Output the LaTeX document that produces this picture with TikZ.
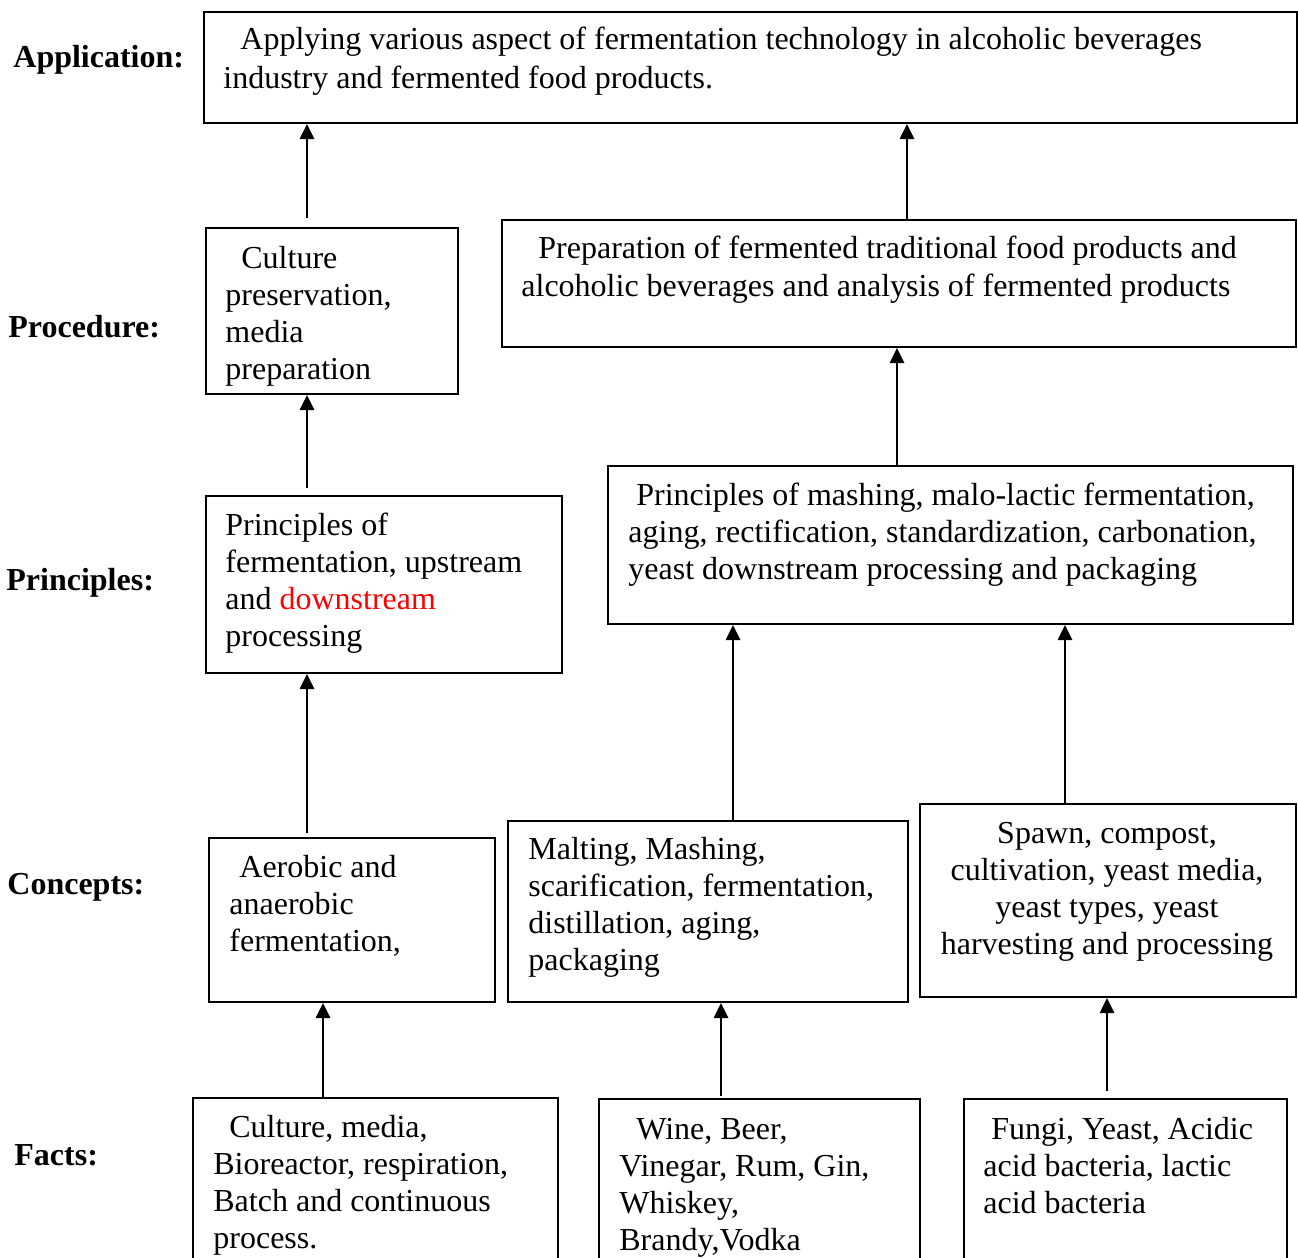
\documentclass[tikz,border=0pt]{standalone}
\usepackage{fontspec}
\setmainfont{Liberation Serif}
\usetikzlibrary{arrows.meta}
\begin{document}
\begin{tikzpicture}[x=0.5pt,y=-0.5pt,
  box/.style={draw, line width=1pt, inner sep=0pt, anchor=north west},
  txt/.style={inner sep=0pt, anchor=base west, font=\fontsize{16}{18.5}\selectfont},
  ctxt/.style={inner sep=0pt, anchor=base, font=\fontsize{16}{18.5}\selectfont},
  lvl/.style={inner sep=0pt, anchor=base west, font=\fontsize{16}{18.5}\selectfont\bfseries},
  arr/.style={line width=1.3pt, -{Triangle[length=7.5pt,width=7pt]}}]
\useasboundingbox (0,0) rectangle (1298,1258);
\clip (0,0) rectangle (1298,1258);
\fill[white] (0,0) rectangle (1298,1258);

% level labels
\node[lvl] (lapp)  at (13,68)   {Application:};
\node[lvl] (lproc) at (8,337)   {Procedure:};
\node[lvl] (lprin) at (6,590)   {Principles:};
\node[lvl] (lcon)  at (7,894)   {Concepts:};
\node[lvl] (lfact) at (14,1165) {Facts:};

% boxes
\node[box, minimum width=546.5pt, minimum height=55.5pt] (app)   at (203,11)  {};
\node[box, minimum width=126pt,   minimum height=83pt]   (proc1) at (205,227) {};
\node[box, minimum width=397pt,   minimum height=63.5pt] (proc2) at (501,219) {};
\node[box, minimum width=178pt,   minimum height=88.5pt] (prin1) at (205,495) {};
\node[box, minimum width=342.5pt, minimum height=79pt]   (prin2) at (607,465) {};
\node[box, minimum width=143pt,   minimum height=82pt]   (con1)  at (208,837) {};
\node[box, minimum width=200pt,   minimum height=90.5pt] (con2)  at (507,820) {};
\node[box, minimum width=188pt,   minimum height=96.5pt] (con3)  at (919,803) {};
\node[box, minimum width=182.5pt, minimum height=120pt]  (fact1) at (192,1097) {};
\node[box, minimum width=160.5pt, minimum height=120pt]  (fact2) at (598,1098) {};
\node[box, minimum width=161.5pt, minimum height=120pt]  (fact3) at (963,1098) {};

% box texts
\node[txt] (app-t) at (223,49) {\begin{tabular}[t]{@{}l@{}}\hspace*{8.5pt}Applying various aspect of fermentation technology in alcoholic beverages\\[1pt]industry and fermented food products.\end{tabular}};
\node[txt] (proc1-t) at (225,268) {\begin{tabular}[t]{@{}l@{}}\hspace*{8pt}Culture\\preservation,\\media\\preparation\end{tabular}};
\node[txt] (proc2-t) at (521,258) {\begin{tabular}[t]{@{}l@{}}\hspace*{8.5pt}Preparation of fermented traditional food products and\\[0.5pt]alcoholic beverages and analysis of fermented products\end{tabular}};
\node[txt] (prin1-t) at (225,535) {\begin{tabular}[t]{@{}l@{}}Principles of\\fermentation, upstream\\and \textcolor{red}{downstream}\\processing\end{tabular}};
\node[txt] (prin2-t) at (628,505) {\begin{tabular}[t]{@{}l@{}}\hspace*{4pt}Principles of mashing, malo-lactic fermentation,\\aging, rectification, standardization, carbonation,\\yeast downstream processing and packaging\end{tabular}};
\node[txt] (con1-t) at (229,877) {\begin{tabular}[t]{@{}l@{}}\hspace*{5pt}Aerobic and\\anaerobic\\fermentation,\end{tabular}};
\node[txt] (con2-t) at (528,859) {\begin{tabular}[t]{@{}l@{}}Malting, Mashing,\\scarification, fermentation,\\distillation, aging,\\packaging\end{tabular}};
\node[ctxt] (con3-t) at (1107,843) {\begin{tabular}[t]{@{}c@{}}Spawn, compost,\\cultivation, yeast media,\\yeast types, yeast\\harvesting and processing\end{tabular}};
\node[txt] (fact1-t) at (213,1137) {\begin{tabular}[t]{@{}l@{}}\hspace*{8pt}Culture, media,\\Bioreactor, respiration,\\Batch and continuous\\process.\end{tabular}};
\node[txt] (fact2-t) at (619,1139) {\begin{tabular}[t]{@{}l@{}}\hspace*{8.5pt}Wine, Beer,\\Vinegar, Rum, Gin,\\Whiskey,\\Brandy,Vodka\end{tabular}};
\node[txt] (fact3-t) at (983,1139) {\begin{tabular}[t]{@{}l@{}}\hspace*{4pt}Fungi, Yeast, Acidic\\acid bacteria, lactic\\acid bacteria\end{tabular}};

% arrow start points
\coordinate (s1)  at (307,218);
\coordinate (s2)  at (907,219);
\coordinate (s3)  at (307,488);
\coordinate (s4)  at (897,465);
\coordinate (s5)  at (307,833);
\coordinate (s6)  at (733,820);
\coordinate (s7)  at (1065,803);
\coordinate (s8)  at (323,1097);
\coordinate (s9)  at (721,1096);
\coordinate (s10) at (1107,1091);

% upward connectors
\draw[arr] (s1)  -- (s1 |- app.south);
\draw[arr] (s2)  -- (s2 |- app.south);
\draw[arr] (s3)  -- (s3 |- proc1.south);
\draw[arr] (s4)  -- (s4 |- proc2.south);
\draw[arr] (s5)  -- (s5 |- prin1.south);
\draw[arr] (s6)  -- (s6 |- prin2.south);
\draw[arr] (s7)  -- (s7 |- prin2.south);
\draw[arr] (s8)  -- (s8 |- con1.south);
\draw[arr] (s9)  -- (s9 |- con2.south);
\draw[arr] (s10) -- (s10 |- con3.south);
\end{tikzpicture}
\end{document}
